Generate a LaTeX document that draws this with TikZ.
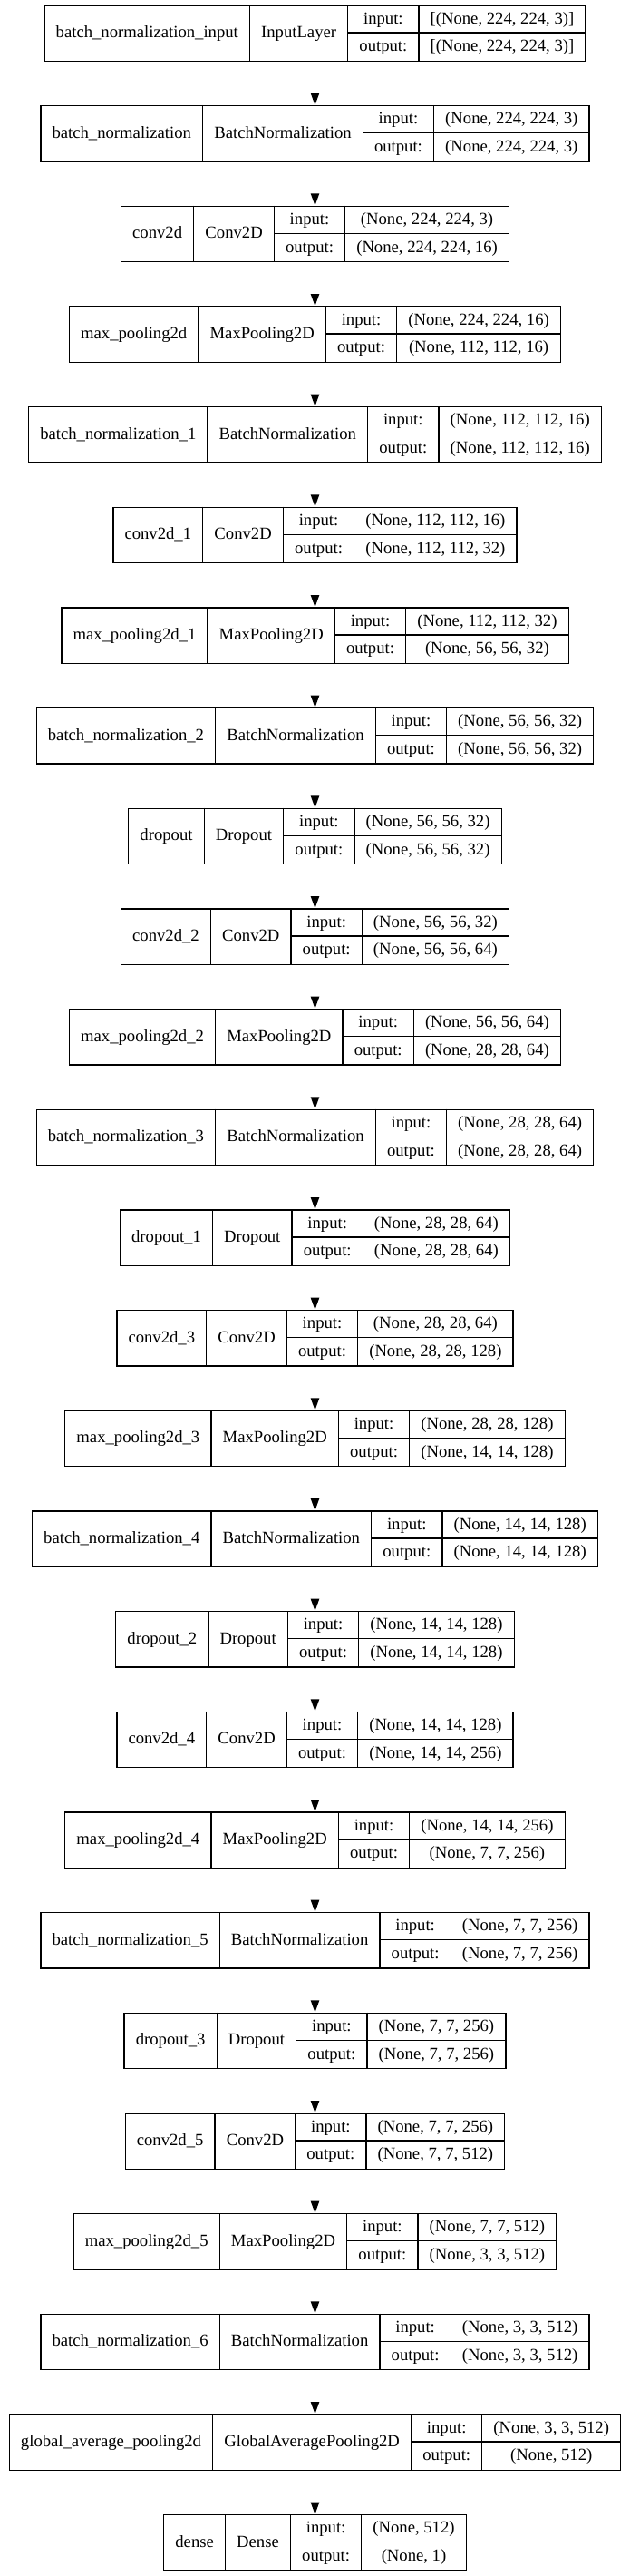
\documentclass[tikz,border=0pt]{standalone}
\usepackage{fontspec}
\setmainfont{Liberation Serif}
\usetikzlibrary{arrows.meta}
\newlength\cwa \newlength\cwb \newlength\cwc \newlength\cwd \newlength\cwt
\newcommand\lfnt{\fontsize{14}{16.8}\selectfont}
\newcommand\cellpad{19pt}
\tikzset{
  recbox/.style={draw=black, line width=1pt, inner sep=0pt, minimum height=46pt, anchor=north},
  sepline/.style={draw=black, line width=1pt},
  txt/.style={inner sep=0pt, anchor=base, font=\lfnt, text=black},
  arr/.style={draw=black, line width=1pt, -{Triangle[length=10pt,width=7pt]}},
}
% measuring pass (outside the picture)
\newcommand\measurelayer[6]{%
  \settowidth\cwa{\lfnt #3}\addtolength\cwa{\cellpad}%
  \settowidth\cwb{\lfnt #4}\addtolength\cwb{\cellpad}%
  \settowidth\cwc{\lfnt output:}\settowidth\cwt{\lfnt input:}%
  \ifdim\cwt>\cwc \cwc=\cwt\fi \addtolength\cwc{\cellpad}%
  \settowidth\cwd{\lfnt #5}\settowidth\cwt{\lfnt #6}%
  \ifdim\cwt>\cwd \cwd=\cwt\fi \addtolength\cwd{\cellpad}%
  \expandafter\xdef\csname wa#1\endcsname{\the\cwa}%
  \expandafter\xdef\csname wb#1\endcsname{\the\cwb}%
  \expandafter\xdef\csname wc#1\endcsname{\the\cwc}%
  \expandafter\xdef\csname wd#1\endcsname{\the\cwd}%
}
% drawing pass
\newcommand\drawlayer[6]{%
  \cwa=\csname wa#1\endcsname\relax
  \cwb=\csname wb#1\endcsname\relax
  \cwc=\csname wc#1\endcsname\relax
  \cwd=\csname wd#1\endcsname\relax
  \pgfmathsetmacro\lyWt{\cwa+\cwb+\cwc+\cwd}%
  \pgfmathsetmacro\lyXo{260.625-\lyWt/2}%
  \pgfmathsetmacro\lyXa{\lyXo+\cwa}%
  \pgfmathsetmacro\lyXb{\lyXa+\cwb}%
  \pgfmathsetmacro\lyXc{\lyXb+\cwc}%
  \pgfmathsetmacro\lyXd{\lyXc+\cwd}%
  \pgfmathsetmacro\lyYt{-(4+83*#2)}%
  \node[recbox, minimum width=\lyWt pt] (#1) at (260.625pt,\lyYt pt) {};
  \draw[sepline] (\lyXa pt,\lyYt pt) -- ++(0,-46pt);
  \draw[sepline] (\lyXb pt,\lyYt pt) -- ++(0,-46pt);
  \draw[sepline] (\lyXc pt,\lyYt pt) -- ++(0,-46pt);
  \draw[sepline] (\lyXb pt,\lyYt pt-23pt) -- (\lyXd pt,\lyYt pt-23pt);
  \node[txt] (#1l) at ({(\lyXo+\lyXa)/2*1pt},\lyYt pt-27.2pt) {#3};
  \node[txt] (#1t) at ({(\lyXa+\lyXb)/2*1pt},\lyYt pt-27.2pt) {#4};
  \node[txt] (#1i) at ({(\lyXb+\lyXc)/2*1pt},\lyYt pt-15.7pt) {input:};
  \node[txt] (#1o) at ({(\lyXb+\lyXc)/2*1pt},\lyYt pt-38.7pt) {output:};
  \node[txt] (#1iv) at ({(\lyXc+\lyXd)/2*1pt},\lyYt pt-15.7pt) {#5};
  \node[txt] (#1ov) at ({(\lyXc+\lyXd)/2*1pt},\lyYt pt-38.7pt) {#6};
}
\newcommand\alllayers{%
\LY{L1}{0}{batch\_normalization\_input}{InputLayer}{[(None, 224, 224, 3)]}{[(None, 224, 224, 3)]}%
\LY{L2}{1}{batch\_normalization}{BatchNormalization}{(None, 224, 224, 3)}{(None, 224, 224, 3)}%
\LY{L3}{2}{conv2d}{Conv2D}{(None, 224, 224, 3)}{(None, 224, 224, 16)}%
\LY{L4}{3}{max\_pooling2d}{MaxPooling2D}{(None, 224, 224, 16)}{(None, 112, 112, 16)}%
\LY{L5}{4}{batch\_normalization\_1}{BatchNormalization}{(None, 112, 112, 16)}{(None, 112, 112, 16)}%
\LY{L6}{5}{conv2d\_1}{Conv2D}{(None, 112, 112, 16)}{(None, 112, 112, 32)}%
\LY{L7}{6}{max\_pooling2d\_1}{MaxPooling2D}{(None, 112, 112, 32)}{(None, 56, 56, 32)}%
\LY{L8}{7}{batch\_normalization\_2}{BatchNormalization}{(None, 56, 56, 32)}{(None, 56, 56, 32)}%
\LY{L9}{8}{dropout}{Dropout}{(None, 56, 56, 32)}{(None, 56, 56, 32)}%
\LY{L10}{9}{conv2d\_2}{Conv2D}{(None, 56, 56, 32)}{(None, 56, 56, 64)}%
\LY{L11}{10}{max\_pooling2d\_2}{MaxPooling2D}{(None, 56, 56, 64)}{(None, 28, 28, 64)}%
\LY{L12}{11}{batch\_normalization\_3}{BatchNormalization}{(None, 28, 28, 64)}{(None, 28, 28, 64)}%
\LY{L13}{12}{dropout\_1}{Dropout}{(None, 28, 28, 64)}{(None, 28, 28, 64)}%
\LY{L14}{13}{conv2d\_3}{Conv2D}{(None, 28, 28, 64)}{(None, 28, 28, 128)}%
\LY{L15}{14}{max\_pooling2d\_3}{MaxPooling2D}{(None, 28, 28, 128)}{(None, 14, 14, 128)}%
\LY{L16}{15}{batch\_normalization\_4}{BatchNormalization}{(None, 14, 14, 128)}{(None, 14, 14, 128)}%
\LY{L17}{16}{dropout\_2}{Dropout}{(None, 14, 14, 128)}{(None, 14, 14, 128)}%
\LY{L18}{17}{conv2d\_4}{Conv2D}{(None, 14, 14, 128)}{(None, 14, 14, 256)}%
\LY{L19}{18}{max\_pooling2d\_4}{MaxPooling2D}{(None, 14, 14, 256)}{(None, 7, 7, 256)}%
\LY{L20}{19}{batch\_normalization\_5}{BatchNormalization}{(None, 7, 7, 256)}{(None, 7, 7, 256)}%
\LY{L21}{20}{dropout\_3}{Dropout}{(None, 7, 7, 256)}{(None, 7, 7, 256)}%
\LY{L22}{21}{conv2d\_5}{Conv2D}{(None, 7, 7, 256)}{(None, 7, 7, 512)}%
\LY{L23}{22}{max\_pooling2d\_5}{MaxPooling2D}{(None, 7, 7, 512)}{(None, 3, 3, 512)}%
\LY{L24}{23}{batch\_normalization\_6}{BatchNormalization}{(None, 3, 3, 512)}{(None, 3, 3, 512)}%
\LY{L25}{24}{global\_average\_pooling2d}{GlobalAveragePooling2D}{(None, 3, 3, 512)}{(None, 512)}%
\LY{L26}{25}{dense}{Dense}{(None, 512)}{(None, 1)}%
}
\begin{document}
\let\LY\measurelayer\alllayers%
\begin{tikzpicture}
\fill[white] (0,0) rectangle (521.25pt,-2130pt);
\useasboundingbox (0,0) rectangle (521.25pt,-2130pt);
\let\LY\drawlayer
\alllayers
\foreach \i in {1,...,25}{
  \pgfmathtruncatemacro\j{\i+1}
  \draw[arr] (L\i.south) -- (L\j.north);
}
\end{tikzpicture}
\end{document}
